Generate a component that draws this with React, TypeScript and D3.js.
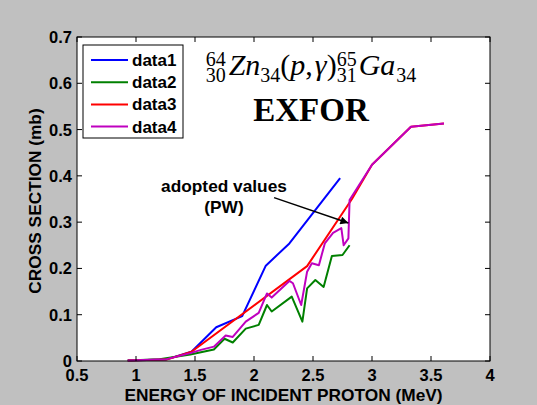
import React from "react";
import * as d3 from "d3";

const W = 537;
const H = 405;

const xTicks = [0.5, 1, 1.5, 2, 2.5, 3, 3.5, 4];
const xTickLabels = ["0.5", "1", "1.5", "2", "2.5", "3", "3.5", "4"];
const yTicks = [0, 0.1, 0.2, 0.3, 0.4, 0.5, 0.6, 0.7];
const yTickLabels = ["0", "0.1", "0.2", "0.3", "0.4", "0.5", "0.6", "0.7"];

const seriesNames = ["data1", "data2", "data3", "data4"];
const seriesColors = ["#0000ff", "#008000", "#ff0000", "#bf00bf"];

const data1E = [0.93, 1.25, 1.47, 1.68, 1.9, 2.1, 2.3, 2.73];
const data1S = [0.001, 0.003, 0.02, 0.073, 0.097, 0.206, 0.254, 0.395];

const data2E = [0.93, 1.2, 1.46, 1.66, 1.75, 1.82, 1.93, 2.04, 2.11, 2.15, 2.32, 2.41, 2.45, 2.52, 2.59, 2.66, 2.75, 2.81];
const data2S = [0.001, 0.004, 0.014, 0.025, 0.048, 0.04, 0.07, 0.078, 0.121, 0.107, 0.139, 0.085, 0.157, 0.175, 0.16, 0.227, 0.229, 0.25];

const data3E = [0.93, 1.26, 1.47, 2.45, 2.83, 3.0, 3.33, 3.61];
const data3S = [0.001, 0.003, 0.02, 0.205, 0.35, 0.424, 0.506, 0.513];

const data4E = [0.93, 1.26, 1.46, 1.55, 1.66, 1.76, 1.82, 1.93, 2.04, 2.11, 2.15, 2.3, 2.33, 2.4, 2.45, 2.49, 2.55, 2.6, 2.67, 2.74, 2.76, 2.8, 2.81, 3.0, 3.33, 3.61];
const data4S = [0.001, 0.004, 0.017, 0.024, 0.031, 0.055, 0.052, 0.085, 0.104, 0.146, 0.137, 0.173, 0.168, 0.121, 0.193, 0.211, 0.207, 0.254, 0.277, 0.287, 0.25, 0.265, 0.348, 0.424, 0.506, 0.513];

const seriesE = [data1E, data2E, data3E, data4E];
const seriesS = [data1S, data2S, data3S, data4S];

const annotationLines = ["adopted values", "(PW)"];
const arrowFrom = { E: 2.17, S: 0.353 };
const arrowTo = { E: 2.8, S: 0.298 };

const SANS = "'Liberation Sans', Arial, Helvetica, sans-serif";
const SERIF = "'Liberation Serif', 'Times New Roman', serif";

export default function App() {
  const left = 77, right = 490, top = 37, bottom = 361;
  const x = d3.scaleLinear().domain([0.5, 4]).range([left, right]);
  const y = d3.scaleLinear().domain([0, 0.7]).range([bottom, top]);
  const line = d3
    .line<[number, number]>()
    .x((d) => x(d[0]))
    .y((d) => y(d[1]));

  const tickLen = 5;
  const legX = 83, legY = 45, legW = 100, legH = 93;
  const rowH = 22.2;

  const ax1 = x(arrowFrom.E), ay1 = y(arrowFrom.S);
  const ax2 = x(arrowTo.E), ay2 = y(arrowTo.S);

  return (
    <svg
      width={W}
      height={H}
      style={{ position: "absolute", left: 0, top: 0, display: "block" }}
    >
      <defs>
        <marker id="ah" viewBox="0 0 10 10" refX="10" refY="5" markerWidth="11" markerHeight="8" markerUnits="userSpaceOnUse" orient="auto">
          <path d="M0,0 L10,5 L0,10 z" fill="#000" />
        </marker>
      </defs>
      <rect x={0} y={0} width={W} height={H} fill="#c0c0c0" />
      <rect x={left} y={top} width={right - left} height={bottom - top} fill="#fff" />

      {seriesE.map((es, i) => (
        <path
          key={i}
          d={line(es.map((e, j) => [e, seriesS[i][j]]) as [number, number][]) || ""}
          fill="none"
          stroke={seriesColors[i]}
          strokeWidth={2}
          strokeLinejoin="round"
        />
      ))}

      <rect x={left} y={top} width={right - left} height={bottom - top} fill="none" stroke="#000" strokeWidth={1} />

      {xTicks.map((t, i) => (
        <g key={"xt" + i}>
          <line x1={x(t)} x2={x(t)} y1={bottom} y2={bottom - tickLen} stroke="#000" />
          <line x1={x(t)} x2={x(t)} y1={top} y2={top + tickLen} stroke="#000" />
          <text x={x(t)} y={381} textAnchor="middle" fontFamily={SANS} fontWeight="bold" fontSize={16.5} fill="#000">
            {xTickLabels[i]}
          </text>
        </g>
      ))}
      {yTicks.map((t, i) => (
        <g key={"yt" + i}>
          <line x1={left} x2={left + tickLen} y1={y(t)} y2={y(t)} stroke="#000" />
          <line x1={right} x2={right - tickLen} y1={y(t)} y2={y(t)} stroke="#000" />
          <text x={72} y={y(t) + 6} textAnchor="end" fontFamily={SANS} fontWeight="bold" fontSize={16.5} fill="#000">
            {yTickLabels[i]}
          </text>
        </g>
      ))}

      <text x={(left + right) / 2} y={401} textAnchor="middle" fontFamily={SANS} fontWeight="bold" fontSize={17.3} fill="#000">
        ENERGY OF INCIDENT PROTON (MeV)
      </text>
      <text
        transform={`translate(41,${(top + bottom) / 2 + 2}) rotate(-90)`}
        textAnchor="middle"
        fontFamily={SANS}
        fontWeight="bold"
        fontSize={17.3}
        fill="#000"
      >
        CROSS SECTION (mb)
      </text>

      <rect x={legX} y={legY} width={legW} height={legH} fill="#fff" stroke="#000" strokeWidth={1} />
      {seriesNames.map((n, i) => {
        const cy = legY + 15 + i * rowH;
        return (
          <g key={"lg" + i}>
            <line x1={91} x2={128} y1={cy} y2={cy} stroke={seriesColors[i]} strokeWidth={2} />
            <text x={132} y={cy + 6} fontFamily={SANS} fontWeight="bold" fontSize={17} fill="#000">
              {n}
            </text>
          </g>
        );
      })}

      <text x={311} y={75} textAnchor="middle" fontFamily={SERIF} fontSize={30} fill="#000">
        <tspan fontSize={20} dy={-9}>64</tspan>
        <tspan fontSize={20} dx={-20} dy={16}>30</tspan>
        <tspan fontStyle="italic" dx={3} dy={-7}>Zn</tspan>
        <tspan fontSize={20} dy={7}>34</tspan>
        <tspan dy={-7}>(</tspan>
        <tspan fontStyle="italic">p</tspan>
        <tspan>,</tspan>
        <tspan fontStyle="italic" dx={2}>γ</tspan>
        <tspan>)</tspan>
        <tspan fontSize={20} dy={-9}>65</tspan>
        <tspan fontSize={20} dx={-20} dy={16}>31</tspan>
        <tspan fontStyle="italic" dx={2} dy={-7}>Ga</tspan>
        <tspan fontSize={20} dx={1} dy={7}>34</tspan>
      </text>
      <text x={311} y={121} textAnchor="middle" fontFamily={SERIF} fontWeight="bold" fontSize={33} fill="#000">
        EXFOR
      </text>

      {annotationLines.map((s, i) => (
        <text key={"an" + i} x={224} y={192 + i * 21} textAnchor="middle" fontFamily={SANS} fontWeight="bold" fontSize={17.3} fill="#000">
          {s}
        </text>
      ))}
      <line x1={ax1} y1={ay1} x2={ax2} y2={ay2} stroke="#000" strokeWidth={1.5} markerEnd="url(#ah)" />
    </svg>
  );
}
